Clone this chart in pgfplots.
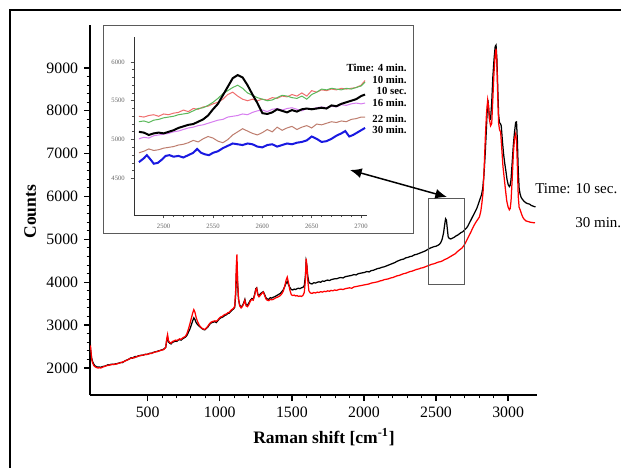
\documentclass[border=0pt]{standalone}
\usepackage{pgfplots}
\pgfplotsset{compat=1.18}
\usepackage{fontspec}
\setmainfont{Liberation Serif}
\usetikzlibrary{arrows.meta}

\definecolor{insred}{RGB}{240,110,110}
\definecolor{insgreen}{RGB}{90,185,90}
\definecolor{insviolet}{RGB}{215,125,240}
\definecolor{insbrown}{RGB}{190,125,110}
\definecolor{insblue}{RGB}{25,25,225}
\definecolor{boxgray}{RGB}{90,90,90}

\begin{document}
\begin{tikzpicture}
% main spectrum (1 px of the reference = 0.6pt)
\begin{axis}[
    at={(54pt,-237pt)}, anchor=south west,
    scale only axis, width=268.2pt, height=222pt,
    xmin=100, xmax=3200, ymin=1370, ymax=10000,
    axis x line*=bottom, axis y line*=left,
    axis line style={line width=1pt, -},
    xtick={500,1000,...,3000}, ytick={2000,3000,...,9000},
    scaled ticks=false,
    minor tick num=4,
    tick align=outside,
    major tick length=3.6pt, minor tick length=2pt,
    tick style={line width=0.8pt, black},
    minor tick style={line width=0.6pt},
    /pgf/number format/assume math mode=true,
    /pgf/number format/1000 sep={},
    tick label style={font=\fontsize{9.5}{11}\selectfont},
    xlabel={\textbf{Raman shift [cm\textsuperscript{-1}]}},
    ylabel={\textbf{Counts}},
    label style={font=\fontsize{10.5}{12}\selectfont},
    xlabel style={at={(axis description cs:0.5235,-0.1135)}, anchor=center},
    ylabel style={at={(axis description cs:-0.134,0.495)}, anchor=center, rotate=0},
]
\addplot[black, line width=0.75pt] coordinates {
(100,2380) (104,2420) (108,2300) (112,2220) (118,2150) (126,2090) (135,2050) (145,2030)
(155,2020) (165,2025) (175,2015) (185,2030) (195,2040) (205,2045) (215,2060) (225,2075)
(235,2070) (245,2085) (255,2090) (265,2080) (275,2095) (285,2100) (295,2110) (305,2120)
(315,2130) (325,2125) (335,2150) (345,2170) (355,2185) (365,2200) (375,2215) (385,2240)
(395,2230) (405,2255) (415,2270) (425,2260) (435,2285) (445,2290) (455,2300) (465,2295)
(475,2310) (485,2320) (495,2315) (505,2330) (515,2345) (525,2340) (535,2360) (545,2370)
(555,2380) (565,2385) (575,2400) (585,2405) (595,2420) (605,2430) (615,2450) (625,2480)
(632,2640) (638,2720) (644,2610) (652,2580) (662,2560) (672,2600) (682,2610) (692,2630)
(702,2620) (712,2650) (722,2660) (732,2650) (742,2680) (752,2700) (762,2720) (772,2760)
(782,2830) (792,2900) (802,3000) (812,3100) (820,3170) (828,3130) (836,3060) (846,3010)
(856,2980) (866,2950) (876,2920) (886,2900) (896,2890) (906,2920) (916,2950) (926,3000)
(936,3040) (946,3060) (956,3070) (966,3080) (976,3060) (986,3100) (996,3140) (1006,3170)
(1016,3180) (1026,3200) (1036,3230) (1046,3240) (1056,3270) (1066,3280) (1076,3320) (1086,3350)
(1096,3380) (1104,3420) (1110,3700) (1115,4200) (1119,4450) (1124,3950) (1130,3600) (1138,3470)
(1148,3420) (1158,3460) (1166,3520) (1174,3600) (1182,3480) (1192,3460) (1202,3520) (1212,3580)
(1222,3620) (1232,3600) (1242,3720) (1250,3850) (1256,3870) (1264,3720) (1272,3690) (1282,3730)
(1292,3760) (1302,3780) (1310,3720) (1320,3640) (1330,3610) (1340,3600) (1350,3640) (1360,3630)
(1370,3650) (1380,3660) (1390,3680) (1400,3700) (1410,3720) (1420,3740) (1430,3780) (1440,3820)
(1450,3900) (1460,3980) (1468,4020) (1476,3950) (1486,3880) (1496,3830) (1506,3820) (1516,3840)
(1526,3830) (1536,3850) (1546,3860) (1556,3850) (1566,3870) (1576,3880) (1586,3920) (1594,4150)
(1599,4480) (1604,4380) (1610,4150) (1618,4000) (1628,3970) (1640,3960) (1652,3990) (1664,3980)
(1676,4000) (1688,4010) (1700,4000) (1712,4030) (1724,4020) (1736,4040) (1748,4050) (1760,4040)
(1772,4060) (1784,4070) (1796,4080) (1810,4080) (1825,4100) (1840,4110) (1855,4100) (1870,4130)
(1885,4140) (1900,4150) (1915,4160) (1930,4180) (1945,4170) (1960,4200) (1975,4210) (1990,4220)
(2005,4230) (2020,4250) (2035,4240) (2050,4270) (2065,4280) (2080,4300) (2095,4320) (2110,4330)
(2125,4350) (2140,4360) (2155,4380) (2170,4400) (2185,4420) (2200,4440) (2215,4460) (2230,4490)
(2245,4510) (2260,4530) (2275,4540) (2290,4570) (2305,4580) (2320,4600) (2335,4610) (2350,4640)
(2365,4650) (2380,4670) (2395,4690) (2410,4710) (2425,4730) (2440,4760) (2455,4790) (2470,4810)
(2485,4830) (2500,4840) (2512,4860) (2522,4880) (2532,4920) (2542,5000) (2552,5150) (2560,5350)
(2566,5480) (2572,5450) (2578,5250) (2584,5060) (2592,5020) (2602,5010) (2614,5030) (2626,5050)
(2638,5080) (2650,5100) (2662,5130) (2674,5160) (2686,5180) (2698,5220) (2710,5260) (2722,5320)
(2734,5400) (2746,5480) (2758,5560) (2770,5640) (2782,5720) (2794,5830) (2806,5950) (2816,6050)
(2824,6200) (2832,6500) (2840,6950) (2848,7500) (2854,7950) (2860,8250) (2866,8000) (2872,7800)
(2878,7800) (2886,8200) (2894,8800) (2902,9200) (2910,9500) (2916,9530) (2922,9200) (2928,8500)
(2934,7900) (2940,7720) (2946,7700) (2952,7650) (2960,7300) (2968,7000) (2976,6780) (2984,6600)
(2992,6400) (3000,6280) (3008,6230) (3014,6260) (3020,6400) (3028,6800) (3036,7200) (3044,7500)
(3052,7730) (3058,7740) (3064,7300) (3070,6600) (3076,6200) (3082,6070) (3090,5980) (3100,5930)
(3110,5890) (3120,5860) (3130,5840) (3140,5830) (3150,5820) (3160,5790) (3170,5780) (3180,5765)
(3190,5760)
};
\addplot[red, line width=0.75pt] coordinates {
(100,2480) (104,2500) (108,2350) (112,2200) (118,2120) (126,2060) (135,2030) (145,2010)
(155,2000) (165,2005) (175,2000) (185,2015) (195,2030) (205,2040) (215,2055) (225,2060)
(235,2070) (245,2075) (255,2080) (265,2090) (275,2085) (285,2095) (295,2105) (305,2115)
(315,2125) (325,2140) (335,2150) (345,2165) (355,2180) (365,2195) (375,2220) (385,2225)
(395,2240) (405,2235) (415,2250) (425,2270) (435,2275) (445,2285) (455,2290) (465,2300)
(475,2305) (485,2315) (495,2320) (505,2325) (515,2335) (525,2345) (535,2350) (545,2365)
(555,2375) (565,2380) (575,2390) (585,2410) (595,2415) (605,2420) (615,2440) (625,2480)
(632,2680) (638,2780) (644,2640) (652,2600) (662,2580) (672,2620) (682,2630) (692,2650)
(702,2640) (712,2660) (722,2680) (732,2670) (742,2700) (752,2720) (762,2740) (772,2800)
(782,2900) (792,3020) (802,3150) (812,3280) (820,3360) (828,3300) (836,3180) (846,3080)
(856,3010) (866,2960) (876,2930) (886,2910) (896,2900) (906,2930) (916,2970) (926,3020)
(936,3060) (946,3080) (956,3090) (966,3100) (976,3090) (986,3120) (996,3160) (1006,3190)
(1016,3200) (1026,3230) (1036,3250) (1046,3260) (1056,3290) (1066,3300) (1076,3340) (1086,3370)
(1096,3390) (1104,3450) (1110,3800) (1115,4400) (1119,4650) (1124,4000) (1130,3620) (1138,3450)
(1148,3400) (1158,3440) (1166,3500) (1174,3580) (1182,3450) (1192,3430) (1202,3480) (1212,3560)
(1222,3600) (1232,3580) (1242,3700) (1250,3830) (1256,3860) (1264,3700) (1272,3660) (1282,3700)
(1292,3740) (1302,3770) (1310,3700) (1320,3610) (1330,3580) (1340,3570) (1350,3600) (1360,3590)
(1370,3600) (1380,3620) (1390,3640) (1400,3650) (1410,3670) (1420,3690) (1430,3730) (1440,3790)
(1450,3900) (1460,4050) (1468,4120) (1476,4000) (1486,3820) (1496,3710) (1506,3690) (1516,3700)
(1526,3680) (1536,3690) (1546,3670) (1556,3680) (1566,3670) (1576,3690) (1586,3760) (1594,4050)
(1599,4550) (1604,4400) (1610,4050) (1618,3800) (1628,3750) (1640,3740) (1652,3760) (1664,3750)
(1676,3770) (1688,3760) (1700,3780) (1712,3770) (1724,3790) (1736,3780) (1748,3800) (1760,3790)
(1772,3810) (1784,3800) (1796,3820) (1810,3810) (1825,3830) (1840,3840) (1855,3830) (1870,3850)
(1885,3860) (1900,3870) (1915,3860) (1930,3890) (1945,3900) (1960,3910) (1975,3920) (1990,3930)
(2005,3940) (2020,3950) (2035,3960) (2050,3980) (2065,3990) (2080,4000) (2095,4010) (2110,4030)
(2125,4040) (2140,4060) (2155,4070) (2170,4080) (2185,4100) (2200,4110) (2215,4130) (2230,4150)
(2245,4160) (2260,4180) (2275,4200) (2290,4210) (2305,4230) (2320,4250) (2335,4260) (2350,4280)
(2365,4300) (2380,4310) (2395,4330) (2410,4340) (2425,4360) (2440,4380) (2455,4400) (2470,4420)
(2485,4430) (2500,4450) (2515,4470) (2530,4480) (2545,4500) (2560,4530) (2575,4550) (2590,4580)
(2605,4610) (2620,4640) (2635,4670) (2650,4720) (2665,4760) (2680,4800) (2692,4850) (2704,4920)
(2716,5000) (2728,5080) (2740,5160) (2752,5250) (2764,5330) (2776,5400) (2788,5460) (2800,5520)
(2810,5650) (2818,5850) (2826,6100) (2834,6700) (2842,7400) (2850,7950) (2858,8250) (2864,8100)
(2870,7800) (2878,7650) (2886,7700) (2894,8300) (2902,8900) (2910,9300) (2916,9450) (2922,9100)
(2928,8300) (2934,7700) (2940,7560) (2948,7500) (2956,7100) (2964,6700) (2972,6450) (2980,6200)
(2990,5900) (3000,5750) (3008,5690) (3014,5720) (3020,5900) (3028,6400) (3036,7000) (3044,7350)
(3052,7460) (3058,7300) (3064,6700) (3070,6000) (3076,5750) (3084,5680) (3094,5580) (3104,5500)
(3114,5460) (3124,5430) (3134,5420) (3144,5410) (3154,5400) (3164,5395) (3174,5390) (3186,5385)
};
% zoom window
\draw[boxgray, line width=0.6pt] (axis cs:2450,3940) rectangle (axis cs:2695,5965);
\end{axis}

% inset frame
\draw[boxgray, line width=0.6pt, fill=white] (61.8pt,-15.6pt) rectangle (247.8pt,-139.8pt);

\begin{axis}[
    at={(80.4pt,-129pt)}, anchor=south west,
    scale only axis, width=139.8pt, height=106.8pt,
    xmin=2470, xmax=2706, ymin=4030, ymax=6320,
    axis x line*=bottom, axis y line*=left,
    axis line style={line width=0.5pt, -, black!80},
    xtick={2500,2550,...,2700}, ytick={4500,5000,...,6000},
    scaled ticks=false,
    minor tick num=4,
    tick align=outside,
    major tick length=2pt, minor tick length=1.2pt,
    tick style={line width=0.4pt, black!70},
    /pgf/number format/assume math mode=true,
    /pgf/number format/1000 sep={},
    tick label style={font=\fontsize{4}{5}\selectfont, text=black!60},
]
% 4 min
\addplot[insred, line width=0.6pt] coordinates {
(2475,5300) (2480,5290) (2485,5310) (2490,5320) (2495,5300) (2500,5330) (2505,5320) (2510,5340)
(2515,5350) (2520,5380) (2525,5360) (2530,5400) (2535,5390) (2540,5420) (2545,5430) (2550,5460)
(2555,5480) (2560,5520) (2565,5580) (2570,5610) (2575,5560) (2580,5520) (2585,5500) (2590,5520)
(2595,5500) (2600,5520) (2605,5510) (2610,5540) (2615,5530) (2620,5560) (2625,5550) (2630,5580)
(2635,5560) (2640,5600) (2645,5560) (2650,5630) (2655,5610) (2660,5640) (2665,5630) (2670,5650)
(2675,5640) (2680,5660) (2685,5650) (2690,5660) (2695,5670) (2700,5700) (2704,5760)
};
% 10 min
\addplot[insgreen, line width=0.6pt] coordinates {
(2475,5230) (2480,5240) (2485,5220) (2490,5250) (2495,5260) (2500,5280) (2505,5290) (2510,5300)
(2515,5320) (2520,5330) (2525,5340) (2530,5370) (2535,5400) (2540,5410) (2545,5440) (2550,5480)
(2555,5530) (2560,5590) (2565,5630) (2570,5670) (2575,5700) (2580,5660) (2585,5600) (2590,5570)
(2595,5540) (2600,5520) (2605,5500) (2610,5510) (2615,5540) (2620,5570) (2625,5560) (2630,5540)
(2635,5530) (2640,5560) (2645,5520) (2650,5580) (2655,5610) (2660,5650) (2665,5640) (2670,5660)
(2675,5650) (2680,5640) (2685,5660) (2690,5650) (2695,5670) (2700,5690) (2704,5740)
};
% 16 min
\addplot[insviolet, line width=0.6pt] coordinates {
(2475,5010) (2480,5030) (2485,5020) (2490,5050) (2495,5060) (2500,5070) (2505,5080) (2510,5100)
(2515,5110) (2520,5130) (2525,5150) (2530,5160) (2535,5180) (2540,5190) (2545,5210) (2550,5230)
(2555,5250) (2560,5260) (2565,5290) (2570,5300) (2575,5310) (2580,5330) (2585,5320) (2590,5350)
(2595,5370) (2600,5380) (2605,5360) (2610,5390) (2615,5400) (2620,5380) (2625,5400) (2630,5410)
(2635,5390) (2640,5370) (2645,5400) (2650,5390) (2655,5410) (2660,5420) (2665,5410) (2670,5430)
(2675,5420) (2680,5450) (2685,5440) (2690,5460) (2695,5470) (2700,5460) (2704,5470)
};
% 22 min
\addplot[insbrown, line width=0.6pt] coordinates {
(2475,4830) (2480,4850) (2485,4880) (2490,4860) (2495,4870) (2500,4890) (2505,4900) (2510,4910)
(2515,4930) (2520,4940) (2525,4960) (2530,4990) (2535,4970) (2540,5010) (2545,5040) (2550,5020)
(2555,4980) (2560,4960) (2565,5000) (2570,5060) (2575,5100) (2580,5140) (2585,5110) (2590,5080)
(2595,5060) (2600,5090) (2605,5130) (2610,5100) (2615,5160) (2620,5120) (2625,5150) (2630,5170)
(2635,5130) (2640,5160) (2645,5180) (2650,5150) (2655,5200) (2660,5190) (2665,5210) (2670,5230)
(2675,5220) (2680,5240) (2685,5230) (2690,5260) (2695,5270) (2700,5290) (2704,5290)
};
% 10 sec
\addplot[black, line width=1.2pt] coordinates {
(2475,5100) (2480,5090) (2485,5060) (2490,5080) (2495,5090) (2500,5080) (2505,5100) (2510,5120)
(2515,5150) (2520,5170) (2525,5190) (2530,5200) (2535,5230) (2540,5260) (2545,5310) (2550,5390)
(2555,5460) (2560,5570) (2565,5680) (2570,5790) (2575,5830) (2580,5800) (2585,5700) (2590,5580)
(2595,5470) (2600,5340) (2605,5330) (2610,5350) (2615,5390) (2620,5370) (2625,5350) (2630,5380)
(2635,5360) (2640,5390) (2645,5400) (2650,5390) (2655,5400) (2660,5410) (2665,5400) (2670,5440)
(2675,5430) (2680,5460) (2685,5480) (2690,5500) (2695,5520) (2700,5560) (2704,5580)
};
% 30 min
\addplot[insblue, line width=1.2pt] coordinates {
(2475,4710) (2480,4760) (2483,4800) (2487,4740) (2490,4690) (2494,4700) (2498,4740) (2502,4790)
(2506,4800) (2510,4780) (2515,4790) (2520,4770) (2525,4800) (2530,4830) (2534,4880) (2538,4830)
(2542,4810) (2546,4800) (2550,4830) (2555,4850) (2560,4890) (2565,4920) (2570,4950) (2575,4940)
(2580,4930) (2585,4950) (2590,4940) (2595,4910) (2600,4900) (2605,4930) (2610,4940) (2615,4910)
(2620,4930) (2625,4950) (2630,4940) (2635,4960) (2640,4970) (2645,4990) (2650,5040) (2655,5010)
(2660,4970) (2665,4980) (2670,5010) (2675,5050) (2680,5080) (2684,5110) (2688,5040) (2692,5060)
(2696,5090) (2700,5120) (2704,5150)
};
\end{axis}

% inset legend
\begin{scope}[every node/.style={anchor=east, inner sep=0pt, font=\fontsize{6.5}{7}\selectfont\bfseries}]
\node at (244.2pt,-40.6pt) {Time: 4 min.};
\node at (244.2pt,-48pt) {10 min.};
\node at (244.2pt,-54.6pt) {10 sec.};
\node at (244.2pt,-61.6pt) {16 min.};
\node at (244.2pt,-71.4pt) {22 min.};
\node at (244.2pt,-78pt) {30 min.};
\end{scope}

% main annotations
\node[anchor=west, inner sep=0pt, font=\fontsize{9}{10}\selectfont] at (321pt,-113.4pt) {Time: 10 sec.};
\node[anchor=west, inner sep=0pt, font=\fontsize{9}{10}\selectfont] at (345pt,-133.8pt) {30 min.};

% double arrow between inset and zoom window
\draw[line width=0.9pt, {Latex[length=7pt,width=6pt]}-{Latex[length=7pt,width=6pt]}] (210pt,-102pt) -- (268.2pt,-118.2pt);

% outer frame
\draw[line width=1.2pt] (6pt,-280.8pt) -- (6pt,-6pt) -- (372.6pt,-6pt);

\pgfresetboundingbox
\path[use as bounding box] (0pt,0pt) rectangle (372.6pt,-280.8pt);
\end{tikzpicture}
\end{document}
